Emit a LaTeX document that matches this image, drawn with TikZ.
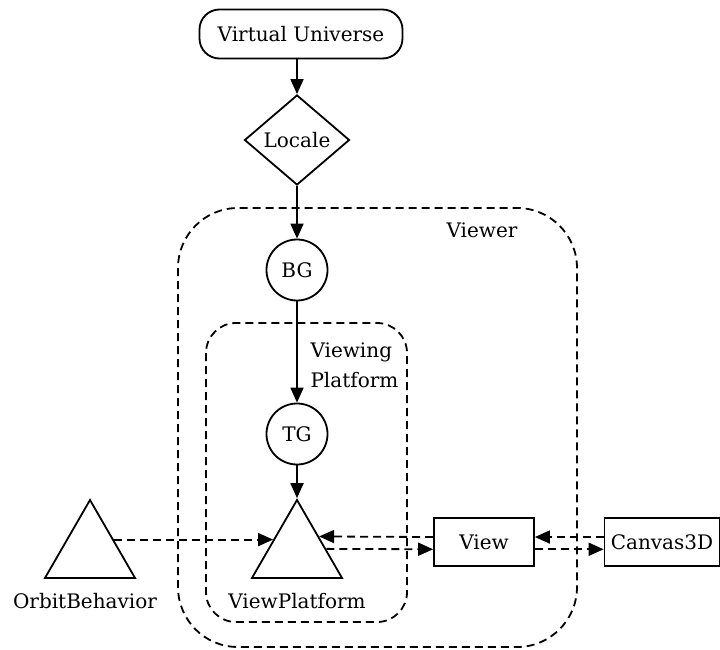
\documentclass[tikz,border=0pt]{standalone}
\usepackage{fontspec}
\setmainfont{DejaVu Serif}
\usetikzlibrary{shapes.geometric,arrows.meta,calc}
\begin{document}
\begin{tikzpicture}[x=1pt,y=-1pt,
  every node/.style={font=\fontsize{20}{24}\selectfont},
  line/.style={line width=1.8pt},
  tip/.style={-{Triangle[length=15pt,width=13pt]}},
  solidarrow/.style={line, tip},
  dasharrow/.style={line, dash pattern=on 8pt off 5pt, tip},
  container/.style={line, dash pattern=on 8pt off 5pt},
  grp/.style={draw, line, circle, minimum size=61pt, inner sep=0pt},
  leaf/.style={draw, line, regular polygon, regular polygon sides=3, minimum size=104pt, inner sep=0pt},
  box/.style={draw, line, rectangle, minimum width=100pt, minimum height=48pt, inner sep=0pt},
]
\useasboundingbox (0,0) rectangle (720,650);

% grouping regions
\draw[container, rounded corners=60pt] (178,208) rectangle (577,647);
\draw[container, rounded corners=30pt] (206,323) rectangle (407,622);
\node (viewerlabel) at (482,230) {Viewer};
\node[anchor=west, align=left, font=\fontsize{20}{30}\selectfont] (vplatlabel) at (307,365) {Viewing\\Platform};

% scene graph nodes
\node[draw, line, rounded corners=20pt, minimum width=203pt, minimum height=49pt] (vu) at (301,34) {Virtual Universe};
\node[draw, line, diamond, aspect=1.17, minimum width=105pt, minimum height=90pt, inner sep=0pt] (loc) at (297,140) {Locale};
\node[grp] (bg) at (297,270) {BG};
\node[grp] (tg) at (297,434) {TG};
\node[leaf] (vp) at (297,552) {};
\node[leaf] (ob) at (90,552) {};
\node (vplabel) at (297,601) {ViewPlatform};
\node (oblabel) at (85,601) {OrbitBehavior};
\node[box] (view) at (484,542) {View};
\node[box, minimum width=115pt] (canvas) at (662,542) {Canvas3D};

% tree edges
\draw[solidarrow] (vu.south -| loc.north) -- (loc.north);
\draw[solidarrow] (loc.south) -- (bg.north);
\draw[solidarrow] (bg.south) -- (tg.north);
\draw[solidarrow] (tg.south) -- (vp.corner 1);

% references
\draw[dasharrow] ($(ob.corner 1)!0.513!(ob.corner 3)$) -- ($(vp.corner 1)!0.513!(vp.corner 2)$);
\draw[dasharrow] ($(view.north west)!0.4!(view.south west)$) -- ($(vp.corner 1)!0.474!(vp.corner 3)$);
\draw[dasharrow] ($(vp.corner 1)!0.628!(vp.corner 3)$) -- ($(view.north west)!0.646!(view.south west)$);
\draw[dasharrow] ($(canvas.north west)!0.4!(canvas.south west)$) -- ($(view.north east)!0.4!(view.south east)$);
\draw[dasharrow] ($(view.north east)!0.646!(view.south east)$) -- ($(canvas.north west)!0.646!(canvas.south west)$);
\end{tikzpicture}
\end{document}
